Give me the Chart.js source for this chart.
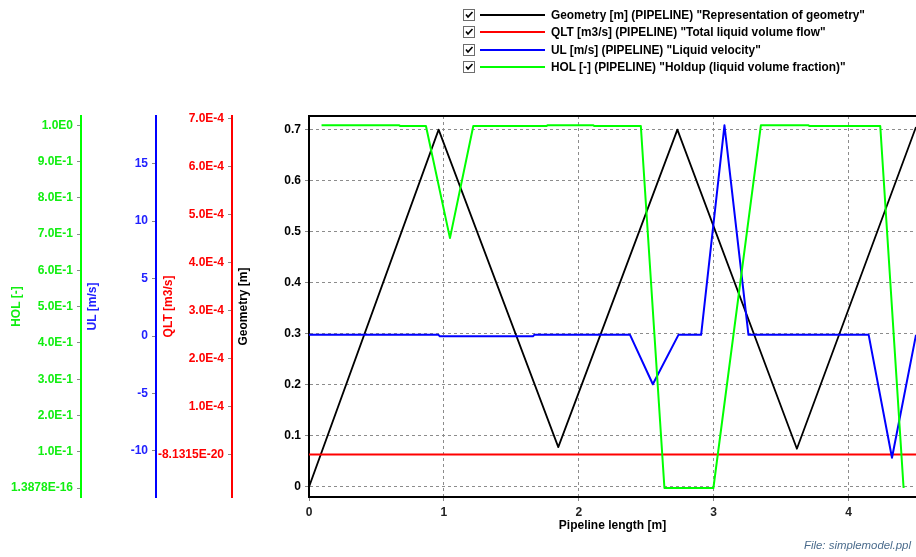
<!DOCTYPE html>
<html>
<head>
<meta charset="utf-8">
<script src="https://cdn.jsdelivr.net/npm/chart.js@4.4.1/dist/chart.umd.min.js"></script>
<style>
  body { margin: 0; background: #fff; }
  #wrap { position: relative; width: 916px; height: 557px; overflow: hidden; font-family: "Liberation Sans", Arial, sans-serif; }
  #legend { position: absolute; left: 463px; top: 6.4px; }
  .row { display: flex; align-items: center; height: 17.4px; }
  .cb { width: 10px; height: 10px; border: 1px solid #6d6d6d; background: #fff; position: relative; }
  .cb svg { position: absolute; left: 0; top: 0; }
  .sw { width: 65px; height: 2px; margin-left: 5px; }
  .lab { margin-left: 6px; font-weight: bold; font-size: 11.85px; color: #000; white-space: nowrap; }
  #file { position: absolute; right: 5px; top: 539px; font-style: italic; font-size: 11.4px; color: #4a6b8c; }
  canvas { position: absolute; left: 0; top: 0; }
</style>
</head>
<body>
<div id="wrap">
  <canvas id="chart" width="916" height="557"></canvas>
  <div id="legend"></div>
  <div id="file">File: simplemodel.ppl</div>
</div>
<script>
// Series names / colours
const seriesLabels = [
  'Geometry [m] (PIPELINE) "Representation of geometry"',
  'QLT [m3/s] (PIPELINE) "Total liquid volume flow"',
  'UL [m/s] (PIPELINE) "Liquid velocity"',
  'HOL [-] (PIPELINE) "Holdup (liquid volume fraction)"'
];
const seriesColors = ['#000000', '#ff0000', '#0000ff', '#00ff00'];

// Axis ticks
const xTicks = [0, 1, 2, 3, 4];
const xTickLabels = ['0', '1', '2', '3', '4'];
const geomTicks = [0, 0.1, 0.2, 0.3, 0.4, 0.5, 0.6, 0.7];
const geomTickLabels = ['0', '0.1', '0.2', '0.3', '0.4', '0.5', '0.6', '0.7'];
const qltTicks = [0, 1e-4, 2e-4, 3e-4, 4e-4, 5e-4, 6e-4, 7e-4];
const qltTickLabels = ['-8.1315E-20', '1.0E-4', '2.0E-4', '3.0E-4', '4.0E-4', '5.0E-4', '6.0E-4', '7.0E-4'];
const ulTicks = [-10, -5, 0, 5, 10, 15];
const ulTickLabels = ['-10', '-5', '0', '5', '10', '15'];
const holTicks = [0, 0.1, 0.2, 0.3, 0.4, 0.5, 0.6, 0.7, 0.8, 0.9, 1.0];
const holTickLabels = ['1.3878E-16', '1.0E-1', '2.0E-1', '3.0E-1', '4.0E-1', '5.0E-1', '6.0E-1', '7.0E-1', '8.0E-1', '9.0E-1', '1.0E0'];

// Series data (pipeline length [m] -> value)
const geomX = [0, 0.961, 1.848, 2.731, 3.617, 4.5];
const geomY = [0, 0.700, 0.078, 0.700, 0.075, 0.705];

const qltX = [0, 4.5];
const qltY = [0, 0];

const ulX = [0, 0.96, 0.97, 1.66, 1.67, 2.38, 2.549, 2.739, 2.907, 3.08, 3.258, 4.149, 4.322, 4.5];
const ulY = [0.1, 0.1, -0.03, -0.03, 0.1, 0.1, -4.2, 0.1, 0.1, 18.35, 0.1, 0.1, -10.6, 0.1];

const holX = [0.093, 0.669, 0.675, 0.867, 1.045, 1.218, 1.762, 1.768, 2.108, 2.114, 2.46, 2.635, 2.998, 3.35, 3.703, 3.709, 4.235, 4.408];
const holY = [1.0, 1.0, 0.998, 0.998, 0.689, 0.998, 0.998, 1.0, 1.0, 0.998, 0.998, 0, 0, 1.0, 1.0, 0.998, 0.998, 0];

// Legend
const legend = document.getElementById('legend');
seriesLabels.forEach((txt, i) => {
  const row = document.createElement('div');
  row.className = 'row';
  row.innerHTML = '<span class="cb"><svg width="10" height="10"><polyline points="2,4.5 4,7 8.5,2" fill="none" stroke="#000" stroke-width="1.6"/></svg></span>' +
    '<span class="sw" style="background:' + seriesColors[i] + '"></span>' +
    '<span class="lab"></span>';
  row.querySelector('.lab').textContent = txt;
  legend.appendChild(row);
});

Chart.defaults.font.family = '"Liberation Sans", Arial, sans-serif';
const boldFont = { size: 12, weight: 'bold' };

const pts = (xs, ys) => xs.map((x, i) => ({ x: x, y: ys[i] }));
const fixedTicks = values => s => { s.ticks = values.map(v => ({ value: v })); };
const fixedWidth = w => s => { s.width = w; };

function sideAxis(lineColor, textColor, values, labels, title, min, max, width, weight, titlePad) {
  return {
    type: 'linear', position: 'left', min: min, max: max, weight: weight,
    afterBuildTicks: fixedTicks(values),
    afterFit: fixedWidth(width),
    ticks: { autoSkip: false, color: textColor, font: boldFont, padding: 4, callback: (v, i) => labels[i] },
    grid: { drawOnChartArea: false, tickLength: 4, tickColor: '#888' },
    border: { color: lineColor, width: 2 },
    title: { display: true, text: title, color: textColor, font: boldFont, padding: { top: titlePad, bottom: 0 } }
  };
}

// top frame line of the plot area
const framePlugin = {
  id: 'frame',
  afterDraw(chart) {
    const a = chart.chartArea, ctx = chart.ctx;
    ctx.save();
    ctx.strokeStyle = '#000';
    ctx.lineWidth = 2;
    ctx.beginPath();
    ctx.moveTo(a.left, a.top);
    ctx.lineTo(a.right, a.top);
    ctx.stroke();
    ctx.restore();
  }
};

new Chart(document.getElementById('chart').getContext('2d'), {
  type: 'line',
  data: {
    datasets: [
      { label: seriesLabels[0], data: pts(geomX, geomY), borderColor: seriesColors[0], borderWidth: 1.8, yAxisID: 'y', order: 3 },
      { label: seriesLabels[1], data: pts(qltX, qltY), borderColor: seriesColors[1], borderWidth: 2, yAxisID: 'qlt', order: 2 },
      { label: seriesLabels[2], data: pts(ulX, ulY), borderColor: seriesColors[2], borderWidth: 2, yAxisID: 'ul', order: 1 },
      { label: seriesLabels[3], data: pts(holX, holY), borderColor: seriesColors[3], borderWidth: 2, yAxisID: 'hol', order: 0 }
    ]
  },
  options: {
    responsive: false,
    animation: false,
    elements: { point: { radius: 0 }, line: { tension: 0, fill: false, borderJoinStyle: 'round' } },
    layout: { padding: { top: 116, right: 0, bottom: 20, left: 0 } },
    plugins: { legend: { display: false }, tooltip: { enabled: false } },
    scales: {
      x: {
        type: 'linear', position: 'bottom', min: 0, max: 4.5,
        afterBuildTicks: fixedTicks(xTicks),
        afterFit: s => { s.height = 40; },
        ticks: { autoSkip: false, maxRotation: 0, color: '#222', font: boldFont, padding: 4, callback: (v, i) => xTickLabels[i] },
        grid: { color: '#8c8c8c', tickLength: 4, tickColor: '#888' },
        border: { color: '#000', width: 2, dash: [3, 3] },
        title: { display: true, text: 'Pipeline length [m]', color: '#000', font: boldFont, padding: { top: 0, bottom: 4 } }
      },
      hol: sideAxis('#00ff00', '#11ee11', holTicks, holTickLabels, 'HOL [-]', -0.0248, 1.0256, 81, 4, 9),
      ul: sideAxis('#0000ff', '#2222ff', ulTicks, ulTickLabels, 'UL [m/s]', -14.02, 19.16, 75, 3, 4),
      qlt: sideAxis('#ff0000', '#ff0000', qltTicks, qltTickLabels, 'QLT [m3/s]', -8.83e-5, 7.054e-4, 76, 2, 5),
      y: {
        type: 'linear', position: 'left', min: -0.0196, max: 0.7266, weight: 1,
        afterBuildTicks: fixedTicks(geomTicks),
        afterFit: fixedWidth(77),
        ticks: { autoSkip: false, color: '#000', font: boldFont, padding: 4, callback: (v, i) => geomTickLabels[i] },
        grid: { color: '#8c8c8c', tickLength: 4, tickColor: '#888' },
        border: { color: '#000', width: 2, dash: [3, 3] },
        title: { display: true, text: 'Geometry [m]', color: '#000', font: boldFont, padding: { top: 4, bottom: 0 } }
      }
    }
  },
  plugins: [framePlugin]
});
</script>
</body>
</html>
